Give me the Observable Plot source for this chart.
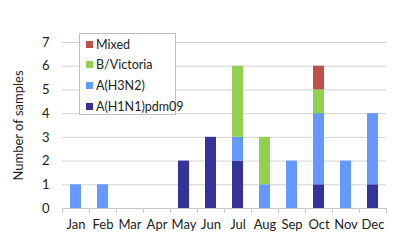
<!DOCTYPE html>
<html>
<head>
<meta charset="utf-8">
<script src="https://cdn.jsdelivr.net/npm/d3@7"></script>
<script src="https://cdn.jsdelivr.net/npm/@observablehq/plot@0.6"></script>
<style>
  body { margin: 0; background: #fff; }
  #wrap { position: relative; width: 394px; height: 245px; font-family: Lato, "Open Sans", sans-serif; }
  #legend { position: absolute; left: 79px; top: 33px; width: 97px; height: 82px; border: 1px solid #bfbfbf; background: #fff; box-sizing: border-box; padding-top: 0px; }
  .item { display: flex; align-items: center; height: 20.6px; font-size: 12.5px; color: #222; white-space: nowrap; }
  .sw { width: 7px; height: 7px; margin-left: 6px; margin-right: 3px; flex: none; }
</style>
</head>
<body>
<div id="wrap"></div>
<script>
const months = ["Jan","Feb","Mar","Apr","May","Jun","Jul","Aug","Sep","Oct","Nov","Dec"];
const h1n1  = [0,0,0,0,2,3,2,0,0,1,0,1];
const h3n2  = [1,1,0,0,0,0,1,1,2,3,2,3];
const bvic  = [0,0,0,0,0,0,3,2,0,1,0,0];
const mixed = [0,0,0,0,0,0,0,0,0,1,0,0];
const seriesNames = ["A(H1N1)pdm09","A(H3N2)","B/Victoria","Mixed"];
const seriesColors = ["#333399","#6699ff","#92d050","#c0504d"];
const yTicks = [0,1,2,3,4,5,6,7];
const yLabel = "Number of samples";

const seriesValues = [h1n1, h3n2, bvic, mixed];
const data = [];
seriesNames.forEach((s, si) => {
  months.forEach((m, i) => data.push({i, month: m, series: s, value: seriesValues[si][i]}));
});

const chart = Plot.plot({
  width: 394,
  height: 245,
  marginLeft: 62,
  marginRight: 8,
  marginTop: 42,
  marginBottom: 37,
  style: {fontFamily: "Lato, 'Open Sans', sans-serif", fontSize: "13px", color: "#222"},
  x: {domain: [0, 12], axis: null},
  y: {domain: [0, 7], axis: null},
  color: {domain: seriesNames, range: seriesColors},
  marks: [
    Plot.ruleY(yTicks.slice(1), {stroke: "#d4d4d4", strokeWidth: 1}),
    Plot.rectY(data, {x1: "i", x2: d => d.i + 1, y: "value", fill: "series", insetLeft: 8, insetRight: 8}),
    Plot.ruleY([0], {stroke: "#c8c8c8"}),
    Plot.axisX(d3.range(13), {tickSize: 5, tickFormat: () => "", stroke: "#c8c8c8", label: null}),
    Plot.axisX(d3.range(12).map(i => i + 0.5), {tickSize: 0, tickPadding: 11, tickFormat: d => months[Math.floor(d)], fontSize: 13, fill: "#222", label: null}),
    Plot.axisY(yTicks, {tickSize: 0, tickPadding: 13, label: null, fontSize: 13, fill: "#222"}),
    Plot.text([yLabel], {frameAnchor: "left", dx: -44, rotate: -90, textAnchor: "middle", text: d => d, fontSize: 13, fill: "#222"})
  ]
});

const wrap = document.getElementById("wrap");
wrap.appendChild(chart);

const legend = document.createElement("div");
legend.id = "legend";
[...seriesNames].reverse().forEach(name => {
  const it = document.createElement("div");
  it.className = "item";
  const sw = document.createElement("span");
  sw.className = "sw";
  sw.style.background = seriesColors[seriesNames.indexOf(name)];
  const tx = document.createElement("span");
  tx.textContent = name;
  it.appendChild(sw); it.appendChild(tx);
  legend.appendChild(it);
});
wrap.appendChild(legend);
</script>
</body>
</html>
